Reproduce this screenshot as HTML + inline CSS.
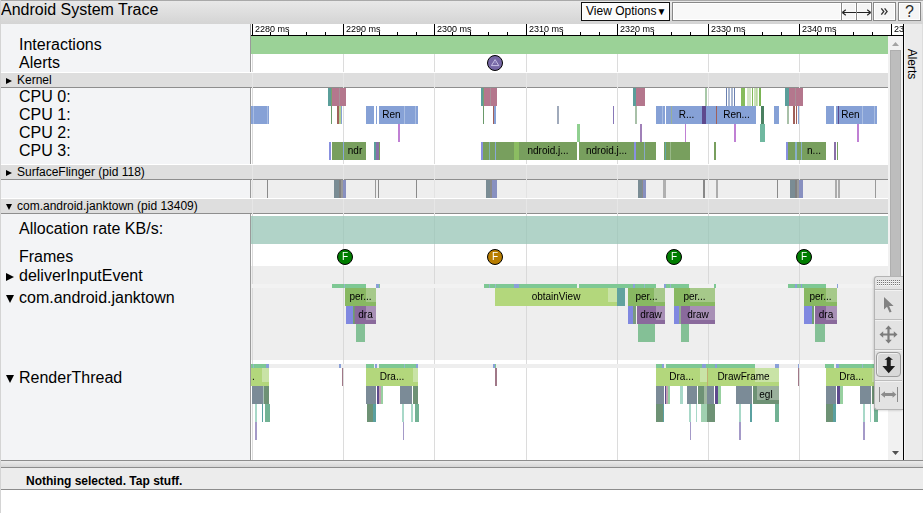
<!DOCTYPE html>
<html><head><meta charset="utf-8"><title>Android System Trace</title><style>
*{box-sizing:border-box}
html,body{margin:0;padding:0;width:923px;height:513px;overflow:hidden;background:#fff;font-family:"Liberation Sans",Arial,sans-serif;}
div{position:absolute}
.r{}
.t{font-size:10px;text-align:center;white-space:nowrap;overflow:hidden;color:#000;will-change:transform}
.lbl{font-size:16px;line-height:18px;left:19px;color:#000;white-space:nowrap}
.btn{background:#f5f5f5;border:1px solid #888;height:19px;top:2px;text-align:center;color:#2a2a2a;box-shadow:inset 0 0 0 1px #fff}
.gl{width:1px;background:#dedede}
.tri{width:0;height:0;border-style:solid}
</style></head><body>
<div class="r" style="left:0px;top:0px;width:923px;height:24px;background:linear-gradient(#e9e9e9,#d4d4d4)"></div>
<div class="r" style="left:0px;top:0px;width:923px;height:1px;background:#a9a9a9"></div>
<div style="left:1px;top:1px;font-size:16px;line-height:18px;color:#000;white-space:nowrap">Android System Trace</div>
<div class="btn" style="left:581px;width:89px;border-color:#111;background:#fcfcfc;font-size:12px;line-height:17px;text-align:left;padding-left:4px;color:#000">View Options<span style="font-size:10px;position:relative;top:0px;margin-left:0px">&#9660;</span></div>
<div class="btn" style="left:672px;width:170px;background:#f8f8f8"></div>
<div class="btn" style="left:841px;width:16px"></div>
<div class="btn" style="left:856px;width:16px"></div>
<svg style="position:absolute;left:841px;top:2px" width="31" height="19" viewBox="0 0 31 19"><path d="M1.5 10.5 H15 M16 10.5 H29.5" stroke="#222" stroke-width="1.1"/><path d="M1.3 10.5 L4.8 7.8 M1.3 10.5 L4.8 13.2 M29.7 10.5 L26.2 7.8 M29.7 10.5 L26.2 13.2" stroke="#222" stroke-width="1.1" fill="none"/></svg>
<div class="btn" style="left:873px;width:23px"></div>
<svg style="position:absolute;left:873px;top:2px" width="23" height="19" viewBox="0 0 23 19"><path d="M8.3 6.3 L10.8 9.5 L8.3 12.7 M11.6 6.3 L14.1 9.5 L11.6 12.7" stroke="#333" stroke-width="1.3" fill="none"/></svg>
<div class="btn" style="left:898px;width:23px;font-size:16px;line-height:17px">?</div>
<div class="r" style="left:0px;top:24px;width:250px;height:436px;background:#f3f4f6"></div>
<div class="r" style="left:0px;top:0px;width:1px;height:513px;background:#d4d4d4"></div>
<div class="r" style="left:250px;top:24px;width:1px;height:436px;background:#9a9a9a"></div>
<div class="r" style="left:251px;top:24px;width:652px;height:12px;background:#fff"></div>
<div class="r" style="left:251px;top:35px;width:652px;height:1px;background:#000"></div>
<div class="r" style="left:252px;top:24px;width:1px;height:11px;background:#000"></div>
<div class="r" style="left:343px;top:24px;width:1px;height:11px;background:#000"></div>
<div class="r" style="left:434px;top:24px;width:1px;height:11px;background:#000"></div>
<div class="r" style="left:526px;top:24px;width:1px;height:11px;background:#000"></div>
<div class="r" style="left:617px;top:24px;width:1px;height:11px;background:#000"></div>
<div class="r" style="left:708px;top:24px;width:1px;height:11px;background:#000"></div>
<div class="r" style="left:799px;top:24px;width:1px;height:11px;background:#000"></div>
<div class="r" style="left:891px;top:24px;width:1px;height:11px;background:#000"></div>
<div class="r" style="left:270px;top:32px;width:1px;height:3px;background:#000"></div>
<div class="r" style="left:288px;top:32px;width:1px;height:3px;background:#000"></div>
<div class="r" style="left:306px;top:32px;width:1px;height:3px;background:#000"></div>
<div class="r" style="left:325px;top:32px;width:1px;height:3px;background:#000"></div>
<div class="r" style="left:361px;top:32px;width:1px;height:3px;background:#000"></div>
<div class="r" style="left:379px;top:32px;width:1px;height:3px;background:#000"></div>
<div class="r" style="left:397px;top:32px;width:1px;height:3px;background:#000"></div>
<div class="r" style="left:416px;top:32px;width:1px;height:3px;background:#000"></div>
<div class="r" style="left:452px;top:32px;width:1px;height:3px;background:#000"></div>
<div class="r" style="left:470px;top:32px;width:1px;height:3px;background:#000"></div>
<div class="r" style="left:488px;top:32px;width:1px;height:3px;background:#000"></div>
<div class="r" style="left:507px;top:32px;width:1px;height:3px;background:#000"></div>
<div class="r" style="left:544px;top:32px;width:1px;height:3px;background:#000"></div>
<div class="r" style="left:562px;top:32px;width:1px;height:3px;background:#000"></div>
<div class="r" style="left:580px;top:32px;width:1px;height:3px;background:#000"></div>
<div class="r" style="left:599px;top:32px;width:1px;height:3px;background:#000"></div>
<div class="r" style="left:635px;top:32px;width:1px;height:3px;background:#000"></div>
<div class="r" style="left:653px;top:32px;width:1px;height:3px;background:#000"></div>
<div class="r" style="left:671px;top:32px;width:1px;height:3px;background:#000"></div>
<div class="r" style="left:690px;top:32px;width:1px;height:3px;background:#000"></div>
<div class="r" style="left:726px;top:32px;width:1px;height:3px;background:#000"></div>
<div class="r" style="left:744px;top:32px;width:1px;height:3px;background:#000"></div>
<div class="r" style="left:762px;top:32px;width:1px;height:3px;background:#000"></div>
<div class="r" style="left:781px;top:32px;width:1px;height:3px;background:#000"></div>
<div class="r" style="left:817px;top:32px;width:1px;height:3px;background:#000"></div>
<div class="r" style="left:835px;top:32px;width:1px;height:3px;background:#000"></div>
<div class="r" style="left:853px;top:32px;width:1px;height:3px;background:#000"></div>
<div class="r" style="left:872px;top:32px;width:1px;height:3px;background:#000"></div>
<div style="left:255px;top:24px;width:50px;overflow:hidden;font-size:9px;line-height:11px;white-space:nowrap;color:#000;will-change:transform">2280 ms</div>
<div style="left:346px;top:24px;width:50px;overflow:hidden;font-size:9px;line-height:11px;white-space:nowrap;color:#000;will-change:transform">2290 ms</div>
<div style="left:437px;top:24px;width:50px;overflow:hidden;font-size:9px;line-height:11px;white-space:nowrap;color:#000;will-change:transform">2300 ms</div>
<div style="left:529px;top:24px;width:50px;overflow:hidden;font-size:9px;line-height:11px;white-space:nowrap;color:#000;will-change:transform">2310 ms</div>
<div style="left:620px;top:24px;width:50px;overflow:hidden;font-size:9px;line-height:11px;white-space:nowrap;color:#000;will-change:transform">2320 ms</div>
<div style="left:711px;top:24px;width:50px;overflow:hidden;font-size:9px;line-height:11px;white-space:nowrap;color:#000;will-change:transform">2330 ms</div>
<div style="left:802px;top:24px;width:50px;overflow:hidden;font-size:9px;line-height:11px;white-space:nowrap;color:#000;will-change:transform">2340 ms</div>
<div style="left:894px;top:24px;width:9px;overflow:hidden;font-size:9px;line-height:11px;white-space:nowrap;color:#000;will-change:transform">2350 ms</div>
<div class="r" style="left:251px;top:36px;width:637px;height:18px;background:#9bd297"></div>
<div class="r" style="left:252px;top:54px;width:1px;height:18px;background:#dcdcdc"></div>
<div class="r" style="left:343px;top:54px;width:1px;height:18px;background:#dcdcdc"></div>
<div class="r" style="left:434px;top:54px;width:1px;height:18px;background:#dcdcdc"></div>
<div class="r" style="left:526px;top:54px;width:1px;height:18px;background:#dcdcdc"></div>
<div class="r" style="left:617px;top:54px;width:1px;height:18px;background:#dcdcdc"></div>
<div class="r" style="left:708px;top:54px;width:1px;height:18px;background:#dcdcdc"></div>
<div class="r" style="left:799px;top:54px;width:1px;height:18px;background:#dcdcdc"></div>
<div class="r" style="left:1px;top:72px;width:887px;height:1px;background:#fff"></div>
<div class="r" style="left:1px;top:73px;width:887px;height:14px;background:#dedede"></div>
<div class="r" style="left:1px;top:87px;width:887px;height:1px;background:#8e8e8e"></div>
<div class="tri" style="left:6px;top:78px;border-width:3px 0 3px 6px;border-color:transparent transparent transparent #000"></div>
<div style="left:17px;top:73px;font-size:12px;line-height:14px;white-space:nowrap;color:#000">Kernel</div>
<div class="r" style="left:252px;top:88px;width:1px;height:76px;background:#dcdcdc"></div>
<div class="r" style="left:343px;top:88px;width:1px;height:76px;background:#dcdcdc"></div>
<div class="r" style="left:434px;top:88px;width:1px;height:76px;background:#dcdcdc"></div>
<div class="r" style="left:526px;top:88px;width:1px;height:76px;background:#dcdcdc"></div>
<div class="r" style="left:617px;top:88px;width:1px;height:76px;background:#dcdcdc"></div>
<div class="r" style="left:708px;top:88px;width:1px;height:76px;background:#dcdcdc"></div>
<div class="r" style="left:799px;top:88px;width:1px;height:76px;background:#dcdcdc"></div>
<div class="r" style="left:1px;top:164px;width:887px;height:1px;background:#fff"></div>
<div class="r" style="left:1px;top:165px;width:887px;height:14px;background:#dedede"></div>
<div class="r" style="left:1px;top:179px;width:887px;height:1px;background:#8e8e8e"></div>
<div class="tri" style="left:6px;top:170px;border-width:3px 0 3px 6px;border-color:transparent transparent transparent #000"></div>
<div style="left:17px;top:165px;font-size:12px;line-height:14px;white-space:nowrap;color:#000">SurfaceFlinger (pid 118)</div>
<div class="r" style="left:251px;top:180px;width:637px;height:18px;background:#eeeeee"></div>
<div class="r" style="left:252px;top:180px;width:1px;height:18px;background:#e3e3e3"></div>
<div class="r" style="left:343px;top:180px;width:1px;height:18px;background:#e3e3e3"></div>
<div class="r" style="left:434px;top:180px;width:1px;height:18px;background:#e3e3e3"></div>
<div class="r" style="left:526px;top:180px;width:1px;height:18px;background:#e3e3e3"></div>
<div class="r" style="left:617px;top:180px;width:1px;height:18px;background:#e3e3e3"></div>
<div class="r" style="left:708px;top:180px;width:1px;height:18px;background:#e3e3e3"></div>
<div class="r" style="left:799px;top:180px;width:1px;height:18px;background:#e3e3e3"></div>
<div class="r" style="left:1px;top:198px;width:887px;height:1px;background:#fff"></div>
<div class="r" style="left:1px;top:199px;width:887px;height:14px;background:#dedede"></div>
<div class="r" style="left:1px;top:213px;width:887px;height:1px;background:#8e8e8e"></div>
<div class="tri" style="left:6px;top:204px;border-width:6px 3px 0 3px;border-color:#000 transparent transparent transparent"></div>
<div style="left:17px;top:199px;font-size:12px;line-height:14px;white-space:nowrap;color:#000">com.android.janktown (pid 13409)</div>
<div class="r" style="left:252px;top:214px;width:1px;height:52px;background:#dcdcdc"></div>
<div class="r" style="left:343px;top:214px;width:1px;height:52px;background:#dcdcdc"></div>
<div class="r" style="left:434px;top:214px;width:1px;height:52px;background:#dcdcdc"></div>
<div class="r" style="left:526px;top:214px;width:1px;height:52px;background:#dcdcdc"></div>
<div class="r" style="left:617px;top:214px;width:1px;height:52px;background:#dcdcdc"></div>
<div class="r" style="left:708px;top:214px;width:1px;height:52px;background:#dcdcdc"></div>
<div class="r" style="left:799px;top:214px;width:1px;height:52px;background:#dcdcdc"></div>
<div class="r" style="left:251px;top:216px;width:637px;height:28px;background:#b1d3c8"></div>
<div class="r" style="left:252px;top:216px;width:1px;height:28px;background:#a9cbc0"></div>
<div class="r" style="left:343px;top:216px;width:1px;height:28px;background:#a9cbc0"></div>
<div class="r" style="left:434px;top:216px;width:1px;height:28px;background:#a9cbc0"></div>
<div class="r" style="left:526px;top:216px;width:1px;height:28px;background:#a9cbc0"></div>
<div class="r" style="left:617px;top:216px;width:1px;height:28px;background:#a9cbc0"></div>
<div class="r" style="left:708px;top:216px;width:1px;height:28px;background:#a9cbc0"></div>
<div class="r" style="left:799px;top:216px;width:1px;height:28px;background:#a9cbc0"></div>
<div class="r" style="left:251px;top:266px;width:637px;height:94px;background:#eeeeee"></div>
<div class="r" style="left:252px;top:266px;width:1px;height:94px;background:#d9d9d9"></div>
<div class="r" style="left:343px;top:266px;width:1px;height:94px;background:#d9d9d9"></div>
<div class="r" style="left:434px;top:266px;width:1px;height:94px;background:#d9d9d9"></div>
<div class="r" style="left:526px;top:266px;width:1px;height:94px;background:#d9d9d9"></div>
<div class="r" style="left:617px;top:266px;width:1px;height:94px;background:#d9d9d9"></div>
<div class="r" style="left:708px;top:266px;width:1px;height:94px;background:#d9d9d9"></div>
<div class="r" style="left:799px;top:266px;width:1px;height:94px;background:#d9d9d9"></div>
<div class="r" style="left:251px;top:284px;width:637px;height:4px;background:#f2f2f2"></div>
<div class="r" style="left:252px;top:360px;width:1px;height:100px;background:#dcdcdc"></div>
<div class="r" style="left:343px;top:360px;width:1px;height:100px;background:#dcdcdc"></div>
<div class="r" style="left:434px;top:360px;width:1px;height:100px;background:#dcdcdc"></div>
<div class="r" style="left:526px;top:360px;width:1px;height:100px;background:#dcdcdc"></div>
<div class="r" style="left:617px;top:360px;width:1px;height:100px;background:#dcdcdc"></div>
<div class="r" style="left:708px;top:360px;width:1px;height:100px;background:#dcdcdc"></div>
<div class="r" style="left:799px;top:360px;width:1px;height:100px;background:#dcdcdc"></div>
<div class="r" style="left:251px;top:364px;width:637px;height:4px;background:#eeeeee"></div>
<div class="r" style="left:252px;top:73px;width:1px;height:15px;background:#e6e6e6"></div>
<div class="r" style="left:343px;top:73px;width:1px;height:15px;background:#e6e6e6"></div>
<div class="r" style="left:434px;top:73px;width:1px;height:15px;background:#e6e6e6"></div>
<div class="r" style="left:526px;top:73px;width:1px;height:15px;background:#e6e6e6"></div>
<div class="r" style="left:617px;top:73px;width:1px;height:15px;background:#e6e6e6"></div>
<div class="r" style="left:708px;top:73px;width:1px;height:15px;background:#e6e6e6"></div>
<div class="r" style="left:799px;top:73px;width:1px;height:15px;background:#e6e6e6"></div>
<div class="r" style="left:252px;top:165px;width:1px;height:15px;background:#e6e6e6"></div>
<div class="r" style="left:343px;top:165px;width:1px;height:15px;background:#e6e6e6"></div>
<div class="r" style="left:434px;top:165px;width:1px;height:15px;background:#e6e6e6"></div>
<div class="r" style="left:526px;top:165px;width:1px;height:15px;background:#e6e6e6"></div>
<div class="r" style="left:617px;top:165px;width:1px;height:15px;background:#e6e6e6"></div>
<div class="r" style="left:708px;top:165px;width:1px;height:15px;background:#e6e6e6"></div>
<div class="r" style="left:799px;top:165px;width:1px;height:15px;background:#e6e6e6"></div>
<div class="r" style="left:252px;top:199px;width:1px;height:15px;background:#e6e6e6"></div>
<div class="r" style="left:343px;top:199px;width:1px;height:15px;background:#e6e6e6"></div>
<div class="r" style="left:434px;top:199px;width:1px;height:15px;background:#e6e6e6"></div>
<div class="r" style="left:526px;top:199px;width:1px;height:15px;background:#e6e6e6"></div>
<div class="r" style="left:617px;top:199px;width:1px;height:15px;background:#e6e6e6"></div>
<div class="r" style="left:708px;top:199px;width:1px;height:15px;background:#e6e6e6"></div>
<div class="r" style="left:799px;top:199px;width:1px;height:15px;background:#e6e6e6"></div>
<div class="lbl" style="top:36px">Interactions</div>
<div class="lbl" style="top:54px">Alerts</div>
<div class="lbl" style="top:88px">CPU 0:</div>
<div class="lbl" style="top:106px">CPU 1:</div>
<div class="lbl" style="top:124px">CPU 2:</div>
<div class="lbl" style="top:142px">CPU 3:</div>
<div class="lbl" style="top:220px">Allocation rate KB/s:</div>
<div class="lbl" style="top:248px">Frames</div>
<div class="lbl" style="top:267px">deliverInputEvent</div>
<div class="lbl" style="top:289px">com.android.janktown</div>
<div class="lbl" style="top:369px">RenderThread</div>
<div class="tri" style="left:6px;top:273px;border-width:4px 0 4px 8px;border-color:transparent transparent transparent #000"></div>
<div class="tri" style="left:6px;top:295px;border-width:8px 4px 0 4px;border-color:#000 transparent transparent transparent"></div>
<div class="tri" style="left:6px;top:375px;border-width:8px 4px 0 4px;border-color:#000 transparent transparent transparent"></div>
<div class="r" style="left:328px;top:88px;width:3px;height:18px;background:#5a9e9a"></div>
<div class="r" style="left:331px;top:88px;width:1px;height:18px;background:#7aa070"></div>
<div class="r" style="left:332px;top:88px;width:14px;height:18px;background:#b4778d"></div>
<div class="r" style="left:339px;top:88px;width:1px;height:18px;background:#a89098"></div>
<div class="r" style="left:481px;top:88px;width:2px;height:18px;background:#5a9e9a"></div>
<div class="r" style="left:483px;top:88px;width:1px;height:18px;background:#7aa070"></div>
<div class="r" style="left:484px;top:88px;width:13px;height:18px;background:#b4778d"></div>
<div class="r" style="left:490px;top:88px;width:1px;height:18px;background:#a89098"></div>
<div class="r" style="left:633px;top:88px;width:3px;height:18px;background:#5a9e9a"></div>
<div class="r" style="left:636px;top:88px;width:9px;height:18px;background:#b4778d"></div>
<div class="r" style="left:705px;top:88px;width:2px;height:18px;background:#a8c8a8"></div>
<div class="r" style="left:726px;top:88px;width:1px;height:18px;background:#6a80b0"></div>
<div class="r" style="left:728px;top:88px;width:2px;height:18px;background:#aab8d2"></div>
<div class="r" style="left:731px;top:88px;width:2px;height:18px;background:#aab8d2"></div>
<div class="r" style="left:734px;top:88px;width:1px;height:18px;background:#6a80b0"></div>
<div class="r" style="left:741px;top:88px;width:4px;height:18px;background:#86bc5c"></div>
<div class="r" style="left:747px;top:88px;width:4px;height:18px;background:#d4e6c6"></div>
<div class="r" style="left:752px;top:88px;width:1px;height:18px;background:#80b858"></div>
<div class="r" style="left:754px;top:88px;width:4px;height:18px;background:#cde2ba"></div>
<div class="r" style="left:756px;top:88px;width:1px;height:18px;background:#b8d8a0"></div>
<div class="r" style="left:759px;top:88px;width:2px;height:18px;background:#7ab454"></div>
<div class="r" style="left:785px;top:88px;width:4px;height:18px;background:#5a9e9a"></div>
<div class="r" style="left:789px;top:88px;width:14px;height:18px;background:#b4778d"></div>
<div class="r" style="left:795px;top:88px;width:1px;height:18px;background:#a89098"></div>
<div class="r" style="left:251px;top:106px;width:18px;height:18px;background:#86a1d6"></div>
<div class="r" style="left:253px;top:106px;width:1px;height:18px;background:#a9bde2"></div>
<div class="r" style="left:267px;top:106px;width:1px;height:18px;background:#a9bde2"></div>
<div class="r" style="left:331px;top:106px;width:1px;height:18px;background:#6a9a6a"></div>
<div class="r" style="left:337px;top:106px;width:2px;height:18px;background:#a0605a"></div>
<div class="r" style="left:339px;top:106px;width:2px;height:18px;background:#b0d090"></div>
<div class="r" style="left:341px;top:106px;width:1px;height:18px;background:#86a1d6"></div>
<div class="r" style="left:366px;top:106px;width:8px;height:18px;background:#86a1d6"></div>
<div class="r" style="left:376px;top:106px;width:1px;height:18px;background:#86a1d6"></div>
<div class="r" style="left:379px;top:106px;width:25px;height:18px;background:#86a1d6"></div>
<div class="t" style="left:379px;top:106px;width:25px;height:18px;line-height:18px;color:#000">Ren</div>
<div class="r" style="left:404px;top:106px;width:11px;height:18px;background:#86a1d6"></div>
<div class="r" style="left:404px;top:106px;width:1px;height:18px;background:#a9bde2"></div>
<div class="r" style="left:415px;top:106px;width:3px;height:18px;background:#86a1d6"></div>
<div class="r" style="left:415px;top:106px;width:1px;height:18px;background:#a9bde2"></div>
<div class="r" style="left:483px;top:106px;width:1px;height:18px;background:#6a9a6a"></div>
<div class="r" style="left:493px;top:106px;width:1px;height:18px;background:#a0605a"></div>
<div class="r" style="left:494px;top:106px;width:2px;height:18px;background:#86a1d6"></div>
<div class="r" style="left:557px;top:106px;width:2px;height:18px;background:#a0aabb"></div>
<div class="r" style="left:613px;top:106px;width:1px;height:18px;background:#8878b8"></div>
<div class="r" style="left:635px;top:106px;width:2px;height:18px;background:#a8c0a8"></div>
<div class="r" style="left:656px;top:106px;width:9px;height:18px;background:#86a1d6"></div>
<div class="r" style="left:662px;top:106px;width:1px;height:18px;background:#a9bde2"></div>
<div class="r" style="left:666px;top:106px;width:5px;height:18px;background:#86a1d6"></div>
<div class="r" style="left:671px;top:106px;width:31px;height:18px;background:#86a1d6"></div>
<div class="t" style="left:671px;top:106px;width:31px;height:18px;line-height:18px;color:#000">R...</div>
<div class="r" style="left:671px;top:106px;width:1px;height:18px;background:#98b098"></div>
<div class="r" style="left:702px;top:106px;width:4px;height:18px;background:#5e4a8e"></div>
<div class="r" style="left:706px;top:106px;width:10px;height:18px;background:#86a1d6"></div>
<div class="r" style="left:716px;top:106px;width:1px;height:18px;background:#a0605a"></div>
<div class="r" style="left:717px;top:106px;width:39px;height:18px;background:#86a1d6"></div>
<div class="t" style="left:717px;top:106px;width:39px;height:18px;line-height:18px;color:#000">Ren...</div>
<div class="r" style="left:761px;top:106px;width:3px;height:18px;background:#4a8060"></div>
<div class="r" style="left:774px;top:106px;width:5px;height:18px;background:#86a1d6"></div>
<div class="r" style="left:787px;top:106px;width:2px;height:18px;background:#a8c0a8"></div>
<div class="r" style="left:793px;top:106px;width:2px;height:18px;background:#a0605a"></div>
<div class="r" style="left:796px;top:106px;width:1px;height:18px;background:#a0605a"></div>
<div class="r" style="left:798px;top:106px;width:1px;height:18px;background:#86a1d6"></div>
<div class="r" style="left:826px;top:106px;width:8px;height:18px;background:#86a1d6"></div>
<div class="r" style="left:836px;top:106px;width:2px;height:18px;background:#86a1d6"></div>
<div class="r" style="left:838px;top:106px;width:1px;height:18px;background:#5e4a8e"></div>
<div class="r" style="left:839px;top:106px;width:23px;height:18px;background:#86a1d6"></div>
<div class="t" style="left:839px;top:106px;width:23px;height:18px;line-height:18px;color:#000">Ren</div>
<div class="r" style="left:862px;top:106px;width:12px;height:18px;background:#86a1d6"></div>
<div class="r" style="left:862px;top:106px;width:1px;height:18px;background:#a9bde2"></div>
<div class="r" style="left:874px;top:106px;width:3px;height:18px;background:#86a1d6"></div>
<div class="r" style="left:874px;top:106px;width:1px;height:18px;background:#a9bde2"></div>
<div class="r" style="left:398px;top:124px;width:2px;height:18px;background:#c080d4"></div>
<div class="r" style="left:577px;top:124px;width:3px;height:18px;background:#90d090"></div>
<div class="r" style="left:640px;top:124px;width:2px;height:18px;background:#a080b8"></div>
<div class="r" style="left:685px;top:124px;width:1px;height:18px;background:#c080d4"></div>
<div class="r" style="left:734px;top:124px;width:2px;height:18px;background:#c080d4"></div>
<div class="r" style="left:760px;top:124px;width:5px;height:18px;background:#70b8a0"></div>
<div class="r" style="left:857px;top:124px;width:2px;height:18px;background:#c080d4"></div>
<div class="r" style="left:329px;top:142px;width:2px;height:18px;background:#8890e0"></div>
<div class="r" style="left:332px;top:142px;width:11px;height:18px;background:#789f5e"></div>
<div class="r" style="left:343px;top:142px;width:1px;height:18px;background:#88a8d8"></div>
<div class="r" style="left:344px;top:142px;width:22px;height:18px;background:#789f5e"></div>
<div class="t" style="left:344px;top:142px;width:22px;height:18px;line-height:18px;color:#000">ndr</div>
<div class="r" style="left:374px;top:142px;width:2px;height:18px;background:#5a9e9a"></div>
<div class="r" style="left:376px;top:142px;width:3px;height:18px;background:#8a70a8"></div>
<div class="r" style="left:379px;top:142px;width:1px;height:18px;background:#78a060"></div>
<div class="r" style="left:481px;top:142px;width:2px;height:18px;background:#8890e0"></div>
<div class="r" style="left:483px;top:142px;width:36px;height:18px;background:#789f5e"></div>
<div class="r" style="left:489px;top:142px;width:1px;height:18px;background:#80b0b0"></div>
<div class="r" style="left:495px;top:142px;width:1px;height:18px;background:#88a8d8"></div>
<div class="r" style="left:514px;top:142px;width:5px;height:18px;background:#8cbd62"></div>
<div class="r" style="left:519px;top:142px;width:58px;height:18px;background:#789f5e"></div>
<div class="t" style="left:519px;top:142px;width:58px;height:18px;line-height:18px;color:#000">ndroid.j...</div>
<div class="r" style="left:579px;top:142px;width:55px;height:18px;background:#789f5e"></div>
<div class="t" style="left:579px;top:142px;width:55px;height:18px;line-height:18px;color:#000">ndroid.j...</div>
<div class="r" style="left:634px;top:142px;width:2px;height:18px;background:#8890e0"></div>
<div class="r" style="left:636px;top:142px;width:20px;height:18px;background:#789f5e"></div>
<div class="r" style="left:644px;top:142px;width:1px;height:18px;background:#88a8c8"></div>
<div class="r" style="left:664px;top:142px;width:26px;height:18px;background:#789f5e"></div>
<div class="r" style="left:665px;top:142px;width:1px;height:18px;background:#60a8a8"></div>
<div class="r" style="left:670px;top:142px;width:1px;height:18px;background:#98b888"></div>
<div class="r" style="left:714px;top:142px;width:2px;height:18px;background:#789f5e"></div>
<div class="r" style="left:786px;top:142px;width:2px;height:18px;background:#8890e0"></div>
<div class="r" style="left:788px;top:142px;width:14px;height:18px;background:#789f5e"></div>
<div class="r" style="left:795px;top:142px;width:2px;height:18px;background:#88b0c8"></div>
<div class="r" style="left:801px;top:142px;width:1px;height:18px;background:#88b0c8"></div>
<div class="r" style="left:802px;top:142px;width:24px;height:18px;background:#789f5e"></div>
<div class="t" style="left:802px;top:142px;width:24px;height:18px;line-height:18px;color:#000">n...</div>
<div class="r" style="left:834px;top:142px;width:2px;height:18px;background:#8a70a8"></div>
<div class="r" style="left:837px;top:142px;width:1px;height:18px;background:#78a060"></div>
<div class="r" style="left:267px;top:180px;width:1px;height:18px;background:#8a8a8a"></div>
<div class="r" style="left:334px;top:180px;width:5px;height:18px;background:#7a8c94"></div>
<div class="r" style="left:339px;top:180px;width:2px;height:18px;background:#808080"></div>
<div class="r" style="left:341px;top:180px;width:2px;height:18px;background:#9a9a9a"></div>
<div class="r" style="left:343px;top:180px;width:3px;height:18px;background:#8890c0"></div>
<div class="r" style="left:375px;top:180px;width:1px;height:18px;background:#999"></div>
<div class="r" style="left:378px;top:180px;width:1px;height:18px;background:#888"></div>
<div class="r" style="left:416px;top:180px;width:1px;height:18px;background:#8a8a8a"></div>
<div class="r" style="left:486px;top:180px;width:4px;height:18px;background:#7a8c94"></div>
<div class="r" style="left:490px;top:180px;width:2px;height:18px;background:#8a8a8a"></div>
<div class="r" style="left:492px;top:180px;width:5px;height:18px;background:#8890c0"></div>
<div class="r" style="left:638px;top:180px;width:4px;height:18px;background:#7a8c94"></div>
<div class="r" style="left:642px;top:180px;width:1px;height:18px;background:#8a8a8a"></div>
<div class="r" style="left:643px;top:180px;width:3px;height:18px;background:#8890c0"></div>
<div class="r" style="left:663px;top:180px;width:3px;height:18px;background:#b0b0b0"></div>
<div class="r" style="left:703px;top:180px;width:2px;height:18px;background:#888"></div>
<div class="r" style="left:716px;top:180px;width:2px;height:18px;background:#acacac"></div>
<div class="r" style="left:777px;top:180px;width:1px;height:18px;background:#8a8a8a"></div>
<div class="r" style="left:790px;top:180px;width:5px;height:18px;background:#7a8c94"></div>
<div class="r" style="left:795px;top:180px;width:2px;height:18px;background:#808080"></div>
<div class="r" style="left:797px;top:180px;width:2px;height:18px;background:#9a9a9a"></div>
<div class="r" style="left:799px;top:180px;width:4px;height:18px;background:#8890c0"></div>
<div class="r" style="left:835px;top:180px;width:2px;height:18px;background:#acacac"></div>
<div class="r" style="left:838px;top:180px;width:2px;height:18px;background:#acacac"></div>
<div class="r" style="left:875px;top:180px;width:1px;height:18px;background:#999"></div>
<div class="r" style="left:332px;top:284px;width:34px;height:4px;background:#7ec894"></div>
<div class="r" style="left:344px;top:284px;width:1px;height:4px;background:#94b8c8"></div>
<div class="r" style="left:376px;top:284px;width:3px;height:4px;background:#8aa0d8"></div>
<div class="r" style="left:379px;top:284px;width:1px;height:4px;background:#7ec894"></div>
<div class="r" style="left:484px;top:284px;width:93px;height:4px;background:#7ec894"></div>
<div class="r" style="left:489px;top:284px;width:1px;height:4px;background:#94b8c8"></div>
<div class="r" style="left:495px;top:284px;width:1px;height:4px;background:#94b8c8"></div>
<div class="r" style="left:514px;top:284px;width:5px;height:4px;background:#8aa0d8"></div>
<div class="r" style="left:579px;top:284px;width:54px;height:4px;background:#7ec894"></div>
<div class="r" style="left:633px;top:284px;width:2px;height:4px;background:#8aa0d8"></div>
<div class="r" style="left:635px;top:284px;width:21px;height:4px;background:#7ec894"></div>
<div class="r" style="left:644px;top:284px;width:1px;height:4px;background:#94b8c8"></div>
<div class="r" style="left:664px;top:284px;width:2px;height:4px;background:#8aa0d8"></div>
<div class="r" style="left:666px;top:284px;width:23px;height:4px;background:#7ec894"></div>
<div class="r" style="left:670px;top:284px;width:1px;height:4px;background:#94b8c8"></div>
<div class="r" style="left:714px;top:284px;width:2px;height:4px;background:#7ec894"></div>
<div class="r" style="left:788px;top:284px;width:38px;height:4px;background:#7ec894"></div>
<div class="r" style="left:795px;top:284px;width:2px;height:4px;background:#8aa0d8"></div>
<div class="r" style="left:801px;top:284px;width:1px;height:4px;background:#8aa0d8"></div>
<div class="r" style="left:837px;top:284px;width:1px;height:4px;background:#8aa0d8"></div>
<div class="r" style="left:345px;top:288px;width:31px;height:18px;background:#88b862"></div>
<div class="r" style="left:366px;top:288px;width:10px;height:14px;background:#a6c98a"></div>
<div class="t" style="left:345px;top:288px;width:31px;height:18px;line-height:18px;color:#000">per...</div>
<div class="r" style="left:495px;top:288px;width:122px;height:18px;background:#b3d77c"></div>
<div class="r" style="left:608px;top:288px;width:9px;height:14px;background:#c9e3a6"></div>
<div class="t" style="left:495px;top:288px;width:122px;height:18px;line-height:18px;color:#000">obtainView</div>
<div class="r" style="left:617px;top:288px;width:8px;height:18px;background:#62a29e"></div>
<div class="r" style="left:628px;top:288px;width:37px;height:18px;background:#88b862"></div>
<div class="r" style="left:654px;top:288px;width:11px;height:14px;background:#a6c98a"></div>
<div class="t" style="left:628px;top:288px;width:37px;height:18px;line-height:18px;color:#000">per...</div>
<div class="r" style="left:674px;top:288px;width:41px;height:18px;background:#88b862"></div>
<div class="r" style="left:690px;top:288px;width:25px;height:14px;background:#a6c98a"></div>
<div class="t" style="left:674px;top:288px;width:41px;height:18px;line-height:18px;color:#000">per...</div>
<div class="r" style="left:804px;top:288px;width:33px;height:18px;background:#88b862"></div>
<div class="r" style="left:826px;top:288px;width:11px;height:14px;background:#a6c98a"></div>
<div class="t" style="left:804px;top:288px;width:33px;height:18px;line-height:18px;color:#000">per...</div>
<div class="r" style="left:346px;top:306px;width:7px;height:18px;background:#8088e0"></div>
<div class="r" style="left:353px;top:306px;width:1px;height:18px;background:#70a070"></div>
<div class="r" style="left:354px;top:306px;width:1px;height:18px;background:#7a8a7a"></div>
<div class="r" style="left:355px;top:306px;width:21px;height:18px;background:#8a6a9c"></div>
<div class="r" style="left:366px;top:306px;width:10px;height:14px;background:#a890b6"></div>
<div class="t" style="left:355px;top:306px;width:21px;height:18px;line-height:18px;color:#000">dra</div>
<div class="r" style="left:628px;top:306px;width:5px;height:18px;background:#8088e0"></div>
<div class="r" style="left:633px;top:306px;width:3px;height:18px;background:#7a9a80"></div>
<div class="r" style="left:637px;top:306px;width:28px;height:18px;background:#8a6a9c"></div>
<div class="r" style="left:656px;top:306px;width:9px;height:14px;background:#a890b6"></div>
<div class="t" style="left:637px;top:306px;width:28px;height:18px;line-height:18px;color:#000">draw</div>
<div class="r" style="left:674px;top:306px;width:5px;height:18px;background:#8088e0"></div>
<div class="r" style="left:679px;top:306px;width:2px;height:18px;background:#90a890"></div>
<div class="r" style="left:681px;top:306px;width:34px;height:18px;background:#8a6a9c"></div>
<div class="r" style="left:690px;top:306px;width:25px;height:14px;background:#a890b6"></div>
<div class="t" style="left:681px;top:306px;width:34px;height:18px;line-height:18px;color:#000">draw</div>
<div class="r" style="left:804px;top:306px;width:8px;height:18px;background:#8088e0"></div>
<div class="r" style="left:812px;top:306px;width:2px;height:18px;background:#70a070"></div>
<div class="r" style="left:815px;top:306px;width:22px;height:18px;background:#8a6a9c"></div>
<div class="r" style="left:826px;top:306px;width:11px;height:14px;background:#a890b6"></div>
<div class="t" style="left:815px;top:306px;width:22px;height:18px;line-height:18px;color:#000">dra</div>
<div class="r" style="left:356px;top:324px;width:9px;height:18px;background:#84c096"></div>
<div class="r" style="left:638px;top:324px;width:17px;height:18px;background:#84c096"></div>
<div class="r" style="left:681px;top:324px;width:8px;height:18px;background:#84c096"></div>
<div class="r" style="left:815px;top:324px;width:10px;height:18px;background:#84c096"></div>
<div class="r" style="left:251px;top:364px;width:15px;height:4px;background:#7ec894"></div>
<div class="r" style="left:253px;top:364px;width:1px;height:4px;background:#94b8c8"></div>
<div class="r" style="left:266px;top:364px;width:3px;height:4px;background:#8aa0d8"></div>
<div class="r" style="left:339px;top:364px;width:2px;height:4px;background:#8aa0d8"></div>
<div class="r" style="left:366px;top:364px;width:8px;height:4px;background:#7ec894"></div>
<div class="r" style="left:375px;top:364px;width:2px;height:4px;background:#8aa0d8"></div>
<div class="r" style="left:379px;top:364px;width:37px;height:4px;background:#7ec894"></div>
<div class="r" style="left:404px;top:364px;width:1px;height:4px;background:#94b8c8"></div>
<div class="r" style="left:416px;top:364px;width:2px;height:4px;background:#8aa0d8"></div>
<div class="r" style="left:493px;top:364px;width:2px;height:4px;background:#8aa0d8"></div>
<div class="r" style="left:495px;top:364px;width:1px;height:4px;background:#7ec894"></div>
<div class="r" style="left:656px;top:364px;width:6px;height:4px;background:#7ec894"></div>
<div class="r" style="left:662px;top:364px;width:2px;height:4px;background:#8aa0d8"></div>
<div class="r" style="left:666px;top:364px;width:36px;height:4px;background:#7ec894"></div>
<div class="r" style="left:702px;top:364px;width:4px;height:4px;background:#8aa0d8"></div>
<div class="r" style="left:706px;top:364px;width:9px;height:4px;background:#7ec894"></div>
<div class="r" style="left:715px;top:364px;width:2px;height:4px;background:#8aa0d8"></div>
<div class="r" style="left:717px;top:364px;width:38px;height:4px;background:#7ec894"></div>
<div class="r" style="left:775px;top:364px;width:4px;height:4px;background:#8aa0d8"></div>
<div class="r" style="left:798px;top:364px;width:1px;height:4px;background:#8aa0d8"></div>
<div class="r" style="left:825px;top:364px;width:9px;height:4px;background:#7ec894"></div>
<div class="r" style="left:836px;top:364px;width:3px;height:4px;background:#8aa0d8"></div>
<div class="r" style="left:839px;top:364px;width:36px;height:4px;background:#7ec894"></div>
<div class="r" style="left:862px;top:364px;width:1px;height:4px;background:#94b8c8"></div>
<div class="r" style="left:251px;top:368px;width:18px;height:18px;background:#b3d77c"></div>
<div class="r" style="left:262px;top:368px;width:7px;height:14px;background:#c9e3a6"></div>
<div class="t" style="left:252px;top:368px;width:4px;height:18px;line-height:18px;text-align:left">.</div>
<div class="r" style="left:342px;top:368px;width:1px;height:18px;background:#a07888"></div>
<div class="r" style="left:366px;top:368px;width:52px;height:18px;background:#b3d77c"></div>
<div class="r" style="left:413px;top:368px;width:5px;height:14px;background:#c9e3a6"></div>
<div class="t" style="left:366px;top:368px;width:52px;height:18px;line-height:18px;color:#000">Dra...</div>
<div class="r" style="left:495px;top:368px;width:2px;height:18px;background:#a07888"></div>
<div class="r" style="left:656px;top:368px;width:51px;height:18px;background:#b3d77c"></div>
<div class="r" style="left:700px;top:368px;width:7px;height:14px;background:#c9e3a6"></div>
<div class="t" style="left:656px;top:368px;width:51px;height:18px;line-height:18px;color:#000">Dra...</div>
<div class="r" style="left:707px;top:368px;width:1px;height:18px;background:#c0b070"></div>
<div class="r" style="left:708px;top:368px;width:71px;height:18px;background:#b3d77c"></div>
<div class="r" style="left:755px;top:368px;width:24px;height:14px;background:#c9e3a6"></div>
<div class="t" style="left:708px;top:368px;width:71px;height:18px;line-height:18px;color:#000">DrawFrame</div>
<div class="r" style="left:798px;top:368px;width:1px;height:18px;background:#a07888"></div>
<div class="r" style="left:826px;top:368px;width:51px;height:18px;background:#b3d77c"></div>
<div class="r" style="left:872px;top:368px;width:5px;height:14px;background:#c9e3a6"></div>
<div class="t" style="left:826px;top:368px;width:51px;height:18px;line-height:18px;color:#000">Dra...</div>
<div class="r" style="left:252px;top:386px;width:11px;height:18px;background:#7b8b97"></div>
<div class="r" style="left:263px;top:386px;width:1px;height:18px;background:#a9c2b8"></div>
<div class="r" style="left:264px;top:386px;width:5px;height:18px;background:#6e9275"></div>
<div class="r" style="left:366px;top:386px;width:10px;height:18px;background:#7b8b97"></div>
<div class="r" style="left:377px;top:386px;width:2px;height:18px;background:#5e4a8e"></div>
<div class="r" style="left:379px;top:386px;width:2px;height:18px;background:#c0a0b0"></div>
<div class="r" style="left:381px;top:386px;width:2px;height:18px;background:#98d0a0"></div>
<div class="r" style="left:400px;top:386px;width:12px;height:18px;background:#7b8b97"></div>
<div class="r" style="left:413px;top:386px;width:5px;height:18px;background:#6e9275"></div>
<div class="r" style="left:656px;top:386px;width:8px;height:18px;background:#7b8b97"></div>
<div class="r" style="left:665px;top:386px;width:1px;height:18px;background:#5e4a8e"></div>
<div class="r" style="left:666px;top:386px;width:2px;height:18px;background:#c0a0b0"></div>
<div class="r" style="left:668px;top:386px;width:2px;height:18px;background:#98d0a0"></div>
<div class="r" style="left:680px;top:386px;width:3px;height:18px;background:#a8d8c8"></div>
<div class="r" style="left:687px;top:386px;width:10px;height:18px;background:#7b8b97"></div>
<div class="r" style="left:698px;top:386px;width:6px;height:18px;background:#6e9275"></div>
<div class="r" style="left:704px;top:386px;width:3px;height:18px;background:#a0b8a0"></div>
<div class="r" style="left:707px;top:386px;width:7px;height:18px;background:#7b8b97"></div>
<div class="r" style="left:715px;top:386px;width:3px;height:18px;background:#5e4a8e"></div>
<div class="r" style="left:718px;top:386px;width:3px;height:18px;background:#98d0a0"></div>
<div class="r" style="left:736px;top:386px;width:16px;height:18px;background:#7b8b97"></div>
<div class="r" style="left:753px;top:386px;width:26px;height:18px;background:#6e9275"></div>
<div class="r" style="left:757px;top:386px;width:22px;height:14px;background:#9ab09c"></div>
<div class="t" style="left:753px;top:386px;width:26px;height:18px;line-height:18px;color:#000">egl</div>
<div class="r" style="left:826px;top:386px;width:10px;height:18px;background:#7b8b97"></div>
<div class="r" style="left:837px;top:386px;width:3px;height:18px;background:#5e4a8e"></div>
<div class="r" style="left:840px;top:386px;width:3px;height:18px;background:#98d0a0"></div>
<div class="r" style="left:860px;top:386px;width:11px;height:18px;background:#7b8b97"></div>
<div class="r" style="left:872px;top:386px;width:5px;height:18px;background:#6e9275"></div>
<div class="r" style="left:255px;top:404px;width:2px;height:18px;background:#a8d8c8"></div>
<div class="r" style="left:262px;top:404px;width:1px;height:18px;background:#5aa0a0"></div>
<div class="r" style="left:265px;top:404px;width:5px;height:18px;background:#72b294"></div>
<div class="r" style="left:367px;top:404px;width:6px;height:18px;background:#6e9275"></div>
<div class="r" style="left:373px;top:404px;width:3px;height:18px;background:#5aa0a0"></div>
<div class="r" style="left:402px;top:404px;width:2px;height:18px;background:#a8d8c8"></div>
<div class="r" style="left:411px;top:404px;width:2px;height:18px;background:#a8d8c8"></div>
<div class="r" style="left:415px;top:404px;width:4px;height:18px;background:#72b294"></div>
<div class="r" style="left:656px;top:404px;width:7px;height:18px;background:#6e9275"></div>
<div class="r" style="left:663px;top:404px;width:1px;height:18px;background:#5aa0a0"></div>
<div class="r" style="left:689px;top:404px;width:2px;height:18px;background:#a8d8c8"></div>
<div class="r" style="left:696px;top:404px;width:1px;height:18px;background:#a8d8c8"></div>
<div class="r" style="left:701px;top:404px;width:6px;height:18px;background:#a0d0b0"></div>
<div class="r" style="left:707px;top:404px;width:8px;height:18px;background:#6e9275"></div>
<div class="r" style="left:739px;top:404px;width:2px;height:18px;background:#a8d8c8"></div>
<div class="r" style="left:750px;top:404px;width:2px;height:18px;background:#5aa0a0"></div>
<div class="r" style="left:775px;top:404px;width:4px;height:18px;background:#72b294"></div>
<div class="r" style="left:826px;top:404px;width:7px;height:18px;background:#6e9275"></div>
<div class="r" style="left:833px;top:404px;width:3px;height:18px;background:#5aa0a0"></div>
<div class="r" style="left:863px;top:404px;width:2px;height:18px;background:#a8d8c8"></div>
<div class="r" style="left:870px;top:404px;width:1px;height:18px;background:#a8d8c8"></div>
<div class="r" style="left:874px;top:404px;width:4px;height:18px;background:#72b294"></div>
<div class="r" style="left:255px;top:422px;width:2px;height:18px;background:#a49ac8"></div>
<div class="r" style="left:403px;top:422px;width:1px;height:18px;background:#a49ac8"></div>
<div class="r" style="left:690px;top:422px;width:1px;height:18px;background:#a49ac8"></div>
<div class="r" style="left:739px;top:422px;width:2px;height:18px;background:#a49ac8"></div>
<div class="r" style="left:863px;top:422px;width:2px;height:18px;background:#a49ac8"></div>
<div style="left:337px;top:249px;width:16px;height:16px;border-radius:50%;background:#007d00;border:1px solid #000"></div>
<div style="left:337px;top:250px;width:16px;font-size:10px;line-height:14px;text-align:center;color:#fff;will-change:transform">F</div>
<div style="left:487px;top:249px;width:16px;height:16px;border-radius:50%;background:#b87d00;border:1px solid #000"></div>
<div style="left:487px;top:250px;width:16px;font-size:10px;line-height:14px;text-align:center;color:#fff;will-change:transform">F</div>
<div style="left:666px;top:249px;width:16px;height:16px;border-radius:50%;background:#007d00;border:1px solid #000"></div>
<div style="left:666px;top:250px;width:16px;font-size:10px;line-height:14px;text-align:center;color:#fff;will-change:transform">F</div>
<div style="left:796px;top:249px;width:16px;height:16px;border-radius:50%;background:#007d00;border:1px solid #000"></div>
<div style="left:796px;top:250px;width:16px;font-size:10px;line-height:14px;text-align:center;color:#fff;will-change:transform">F</div>
<div style="left:487px;top:55px;width:16px;height:16px;border-radius:50%;background:#7566a4;border:1px solid #000"></div>
<svg style="position:absolute;left:490px;top:58px" width="10" height="9" viewBox="0 0 10 9"><path d="M5.1 1.6 L8.8 7.6 L1.4 7.6 Z" fill="none" stroke="#cfc7ea" stroke-width="0.9"/><path d="M5.1 3.8 V5.6" stroke="#a69cd0" stroke-width="0.8"/></svg>
<div class="r" style="left:888px;top:36px;width:15px;height:424px;background:#f1f1f1"></div>
<svg style="position:absolute;left:888px;top:40px" width="15" height="8" viewBox="0 0 15 8"><path d="M4 6 L7.5 2 L11 6 Z" fill="#a3a3a3"/></svg>
<div style="left:890px;top:50px;width:11px;height:250px;background:#bdbdbd;border:1px solid #afafaf"></div>
<svg style="position:absolute;left:888px;top:449px" width="15" height="8" viewBox="0 0 15 8"><path d="M4 2 L7.5 6 L11 2 Z" fill="#505050"/></svg>
<div class="r" style="left:903px;top:24px;width:1px;height:436px;background:#000"></div>
<div class="r" style="left:904px;top:24px;width:19px;height:436px;background:#ebebeb"></div>
<div class="r" style="left:904px;top:24px;width:1px;height:436px;background:#f6f6f6"></div>
<div class="r" style="left:922px;top:24px;width:1px;height:436px;background:#dddddd"></div>
<div style="left:894px;top:56px;width:36px;height:16px;transform:rotate(90deg);font-size:12px;line-height:16px;text-align:center;color:#000">Alerts</div>
<div style="left:874px;top:276px;width:29px;height:134px;background:#e3e3e3;border:1px solid #b4b4b4;border-right:none;border-radius:3px 0 0 3px;box-shadow:-1px 1px 2px rgba(0,0,0,0.12)"></div>
<svg style="position:absolute;left:877px;top:280px" width="24" height="6" viewBox="0 0 24 6"><defs><pattern id="gp" width="2" height="2" patternUnits="userSpaceOnUse"><rect x="0" y="0" width="1" height="1" fill="#767676"/><rect x="0" y="1" width="1" height="1" fill="#fafafa"/></pattern></defs><rect width="23" height="6" fill="url(#gp)"/></svg>
<div class="r" style="left:875px;top:289px;width:27px;height:1px;background:#bcbcbc"></div>
<div class="r" style="left:875px;top:290px;width:27px;height:1px;background:#f2f2f2"></div>
<div class="r" style="left:875px;top:319px;width:27px;height:1px;background:#bcbcbc"></div>
<div class="r" style="left:875px;top:320px;width:27px;height:1px;background:#f2f2f2"></div>
<div class="r" style="left:875px;top:349px;width:27px;height:1px;background:#bcbcbc"></div>
<div class="r" style="left:875px;top:350px;width:27px;height:1px;background:#f2f2f2"></div>
<div class="r" style="left:875px;top:380px;width:27px;height:1px;background:#bcbcbc"></div>
<div class="r" style="left:875px;top:381px;width:27px;height:1px;background:#f2f2f2"></div>
<svg style="position:absolute;left:883px;top:296px" width="12" height="18" viewBox="0 0 12 18"><path d="M1 1 L1 13.5 L4 10.8 L6.6 16.6 L8.6 15.7 L6.1 10 L10.6 10 Z" fill="#828282"/></svg>
<svg style="position:absolute;left:879px;top:325px" width="19" height="19" viewBox="0 0 19 19"><path d="M9.5 0.5 L12.8 4.2 L10.6 4.2 L10.6 8.4 L14.8 8.4 L14.8 6.2 L18.5 9.5 L14.8 12.8 L14.8 10.6 L10.6 10.6 L10.6 14.8 L12.8 14.8 L9.5 18.5 L6.2 14.8 L8.4 14.8 L8.4 10.6 L4.2 10.6 L4.2 12.8 L0.5 9.5 L4.2 6.2 L4.2 8.4 L8.4 8.4 L8.4 4.2 L6.2 4.2 Z" fill="#7c7c7c"/></svg>
<div style="left:876px;top:352px;width:25px;height:25px;border:1px solid #9c9c9c;border-radius:4px;background:#d9d9d9;box-shadow:inset 1px 1px 0 #f0f0f0"></div>
<svg style="position:absolute;left:882px;top:356px" width="14" height="18" viewBox="0 0 14 18"><path d="M6.75 0.6 L11 3.8 L8.75 3.8 L8.75 10 L13.1 10 L6.75 17.3 L0.4 10 L4.75 10 L4.75 3.8 L2.5 3.8 Z" fill="#1c1c1c"/></svg>
<svg style="position:absolute;left:878px;top:387px" width="22" height="15" viewBox="0 0 22 15"><path d="M1.5 0 V15 M19.5 0 V15" stroke="#8c8c8c" stroke-width="1"/><path d="M2.8 7.5 L7 4.3 L7 6 L14.6 6 L14.6 4.3 L18.4 7.5 L14.6 10.7 L14.6 9 L7 9 L7 10.7 Z" fill="#8c8c8c"/></svg>
<div class="r" style="left:0px;top:460px;width:923px;height:1px;background:#8c8c8c"></div>
<div class="r" style="left:0px;top:461px;width:923px;height:6px;background:linear-gradient(#ebebeb,#d5d5d5)"></div>
<div class="r" style="left:0px;top:467px;width:923px;height:1px;background:#8c8c8c"></div>
<div class="r" style="left:0px;top:468px;width:923px;height:21px;background:#ececec"></div>
<div class="r" style="left:0px;top:489px;width:923px;height:1px;background:#8c8c8c"></div>
<div class="r" style="left:0px;top:490px;width:923px;height:23px;background:#fff"></div>
<div class="r" style="left:0px;top:460px;width:1px;height:53px;background:#d4d4d4"></div>
<div style="left:26px;top:474px;font-size:12px;font-weight:bold;line-height:14px;white-space:nowrap;color:#000">Nothing selected. Tap stuff.</div>
</body></html>
